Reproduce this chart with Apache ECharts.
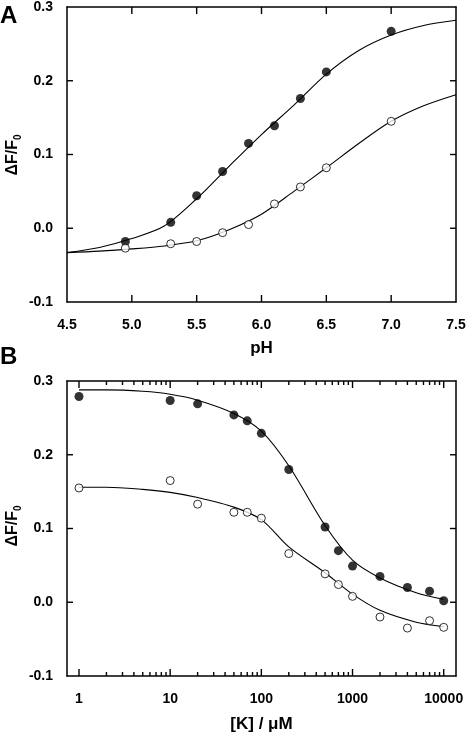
<!DOCTYPE html>
<html><head><meta charset="utf-8">
<script src="https://cdn.jsdelivr.net/npm/echarts@6/dist/echarts.min.js"></script>
<style>html,body{margin:0;padding:0;background:#fff}#c{width:466px;height:741px}</style>
</head><body><div id="c"></div>
<script>
// ---------- Panel A: pH titration ----------
const pHPoints = [4.95, 5.3, 5.5, 5.7, 5.9, 6.1, 6.3, 6.5, 7.0];
const dFFilledA = [-0.018, 0.008, 0.044, 0.077, 0.115, 0.139, 0.176, 0.212, 0.267];
const dFOpenA = [-0.027, -0.021, -0.018, -0.006, 0.005, 0.033, 0.056, 0.082, 0.145];
const pHCurve = [4.5, 4.75, 5.0, 5.25, 5.5, 5.75, 6.0, 6.25, 6.5, 6.75, 7.0, 7.25, 7.5];
const fitFilledA = [-0.033, -0.026, -0.014, 0.003, 0.040, 0.084, 0.127, 0.167, 0.209, 0.241, 0.262, 0.275, 0.282];
const fitOpenA = [-0.033, -0.031, -0.028, -0.024, -0.017, -0.002, 0.019, 0.050, 0.082, 0.115, 0.145, 0.166, 0.181];
const pHTicks = [5.0, 5.5, 6.0, 6.5, 7.0];

// ---------- Panel B: [K] dependence ----------
const kPoints = [1, 10, 20, 50, 70, 100, 200, 500, 700, 1000, 2000, 4000, 7000, 10000];
const dFFilledB = [0.279, 0.2735, 0.269, 0.254, 0.246, 0.229, 0.180, 0.102, 0.070, 0.049, 0.035, 0.020, 0.015, 0.002];
const dFOpenB = [0.155, 0.165, 0.133, 0.122, 0.122, 0.114, 0.066, 0.0385, 0.024, 0.008, -0.020, -0.035, -0.025, -0.034];
const kCurve = [1, 2, 5, 10, 20, 50, 100, 200, 500, 1000, 2000, 5000, 10000];
const fitFilledB = [0.288, 0.288, 0.286, 0.282, 0.274, 0.256, 0.232, 0.185, 0.104, 0.057, 0.033, 0.013, 0.004];
const fitOpenB = [0.156, 0.156, 0.153, 0.149, 0.142, 0.129, 0.112, 0.075, 0.040, 0.011, -0.011, -0.027, -0.033];
const kMajorTicks = [1, 10, 100, 1000, 10000];
const kMinorTicks = [2,3,4,5,6,7,8,9,20,30,40,50,60,70,80,90,200,300,400,500,600,700,800,900,2000,3000,4000,5000,6000,7000,8000,9000];

// shared y ticks
const yTicks = [0.0, 0.1, 0.2];

const FONT = 'Liberation Sans, Arial, sans-serif';
const zip = (xs, ys) => xs.map((x, i) => [x, ys[i]]);
const Y_MIN = -0.1, Y_MAX = 0.3;

const lineStyleAxis = { color: '#000', width: 1.5 };
const labelBase = { color: '#000', fontFamily: FONT, fontWeight: 'bold', fontSize: 14 };

function yAxis(gi, pos) {
  return {
    gridIndex: gi, type: 'value', position: pos, min: Y_MIN, max: Y_MAX, interval: 0.1,
    axisLine: { show: true, onZero: false, lineStyle: lineStyleAxis },
    axisTick: { show: false }, minorTick: { show: false },
    axisLabel: pos === 'left' ? Object.assign({ margin: 14, formatter: v => v.toFixed(1) }, labelBase) : { show: false },
    splitLine: { show: false }
  };
}

const kMin = Math.pow(10, -0.1316), kMax = Math.pow(10, 4.1349);
function logAxis(pos) {
  const ax = {
    gridIndex: 1, type: 'log', logBase: 10, position: pos, min: kMin, max: kMax,
    axisLine: { show: true, onZero: false, lineStyle: lineStyleAxis },
    axisTick: { show: false }, minorTick: { show: false },
    axisLabel: pos === 'bottom'
      ? Object.assign({ margin: 16, customValues: kMajorTicks, formatter: v => String(Math.round(v)) }, labelBase)
      : { show: false },
    splitLine: { show: false }
  };
  if (pos === 'bottom') {
    ax.name = '[K] / μM';
    ax.nameLocation = 'middle';
    ax.nameGap = 40;
    ax.nameTextStyle = { fontFamily: FONT, fontWeight: 'bold', fontSize: 17, color: '#000' };
  }
  return ax;
}

// Tick marks drawn through the axes' own scales (inside-pointing).
function tickSeries(xi, yi, side, values, fixed, len) {
  const horiz = side === 'bottom' || side === 'top';
  return {
    type: 'custom', xAxisIndex: xi, yAxisIndex: yi, silent: true, clip: false, z: 10,
    data: values.map(v => horiz ? [v, fixed] : [fixed, v]),
    renderItem: function (params, api) {
      const p = api.coord([api.value(0), api.value(1)]);
      let dx = 0, dy = 0;
      if (side === 'bottom') dy = -len;
      else if (side === 'top') dy = len;
      else if (side === 'left') dx = len;
      else dx = -len;
      return {
        type: 'polyline',
        shape: { points: [[p[0], p[1]], [p[0] + dx, p[1] + dy]] },
        style: { stroke: '#000', lineWidth: 1.4, fill: null }
      };
    }
  };
}

const filledSym = { symbol: 'circle', symbolSize: 9, itemStyle: { color: '#000' } };
const openSym = { symbol: 'circle', symbolSize: 8, itemStyle: { color: '#fff', borderColor: '#000', borderWidth: 1 } };
const fitLine = { type: 'line', showSymbol: false, smooth: 0.3, lineStyle: { color: '#000', width: 1.1 }, silent: true, z: 2 };

const yTitleRich = {
  a: { fontFamily: FONT, fontWeight: 'bold', fontSize: 16, fill: '#000', lineHeight: 20 },
  b: { fontFamily: FONT, fontWeight: 'bold', fontSize: 10, fill: '#000', lineHeight: 10, verticalAlign: 'bottom' }
};
function yTitle(cx, cy) {
  return {
    type: 'text', x: cx, y: cy, rotation: Math.PI / 2,
    style: { text: '{a|ΔF/F}{b|0}', rich: yTitleRich, align: 'center', verticalAlign: 'middle' }
  };
}

const option = {
  animation: false,
  backgroundColor: '#fff',
  grid: [
    { left: 67, top: 7, width: 389, height: 295, containLabel: false, outerBoundsMode: 'none' },
    { left: 67, top: 381, width: 389, height: 295, containLabel: false, outerBoundsMode: 'none' }
  ],
  xAxis: [
    {
      gridIndex: 0, type: 'value', position: 'bottom', min: 4.5, max: 7.5, interval: 0.5,
      axisLine: { show: true, onZero: false, lineStyle: lineStyleAxis },
      axisTick: { show: false }, minorTick: { show: false },
      axisLabel: Object.assign({ margin: 16, formatter: v => v.toFixed(1) }, labelBase),
      splitLine: { show: false },
      name: 'pH', nameLocation: 'middle', nameGap: 38,
      nameTextStyle: { fontFamily: FONT, fontWeight: 'bold', fontSize: 17, color: '#000' }
    },
    {
      gridIndex: 0, type: 'value', position: 'top', min: 4.5, max: 7.5, interval: 0.5,
      axisLine: { show: true, onZero: false, lineStyle: lineStyleAxis },
      axisTick: { show: false }, minorTick: { show: false },
      axisLabel: { show: false }, splitLine: { show: false }
    },
    logAxis('bottom'),
    logAxis('top')
  ],
  yAxis: [yAxis(0, 'left'), yAxis(0, 'right'), yAxis(1, 'left'), yAxis(1, 'right')],
  graphic: [
    { type: 'text', left: 0, top: 4, style: { text: 'A', fontFamily: FONT, fontWeight: 'bold', fontSize: 24, fill: '#000' } },
    { type: 'text', left: 0, top: 345, style: { text: 'B', fontFamily: FONT, fontWeight: 'bold', fontSize: 24, fill: '#000' } },
    yTitle(13, 155),
    yTitle(13, 526)
  ],
  series: [
    Object.assign({ name: 'fit filled A', xAxisIndex: 0, yAxisIndex: 0, data: zip(pHCurve, fitFilledA) }, fitLine),
    Object.assign({ name: 'fit open A', xAxisIndex: 0, yAxisIndex: 0, data: zip(pHCurve, fitOpenA) }, fitLine),
    Object.assign({ name: 'filled A', type: 'scatter', xAxisIndex: 0, yAxisIndex: 0, data: zip(pHPoints, dFFilledA), z: 3 }, filledSym),
    Object.assign({ name: 'open A', type: 'scatter', xAxisIndex: 0, yAxisIndex: 0, data: zip(pHPoints, dFOpenA), z: 3 }, openSym),
    Object.assign({ name: 'fit filled B', xAxisIndex: 2, yAxisIndex: 2, data: zip(kCurve, fitFilledB) }, fitLine),
    Object.assign({ name: 'fit open B', xAxisIndex: 2, yAxisIndex: 2, data: zip(kCurve, fitOpenB) }, fitLine),
    Object.assign({ name: 'filled B', type: 'scatter', xAxisIndex: 2, yAxisIndex: 2, data: zip(kPoints, dFFilledB), z: 3 }, filledSym),
    Object.assign({ name: 'open B', type: 'scatter', xAxisIndex: 2, yAxisIndex: 2, data: zip(kPoints, dFOpenB), z: 3 }, openSym),
    // ticks panel A
    tickSeries(0, 0, 'bottom', pHTicks, Y_MIN, 7),
    tickSeries(0, 0, 'top', pHTicks, Y_MAX, 7),
    tickSeries(0, 0, 'left', yTicks, 4.5, 6),
    tickSeries(0, 0, 'right', yTicks, 7.5, 6),
    // ticks panel B
    tickSeries(2, 2, 'bottom', kMajorTicks, Y_MIN, 7),
    tickSeries(2, 2, 'bottom', kMinorTicks, Y_MIN, 4),
    tickSeries(2, 2, 'top', kMajorTicks, Y_MAX, 7),
    tickSeries(2, 2, 'top', kMinorTicks, Y_MAX, 4),
    tickSeries(2, 2, 'left', yTicks, kMin, 6),
    tickSeries(2, 2, 'right', yTicks, kMax, 6)
  ]
};

const chart = echarts.init(document.getElementById('c'), null, { renderer: 'canvas' });
chart.setOption(option);
</script>
</body></html>
